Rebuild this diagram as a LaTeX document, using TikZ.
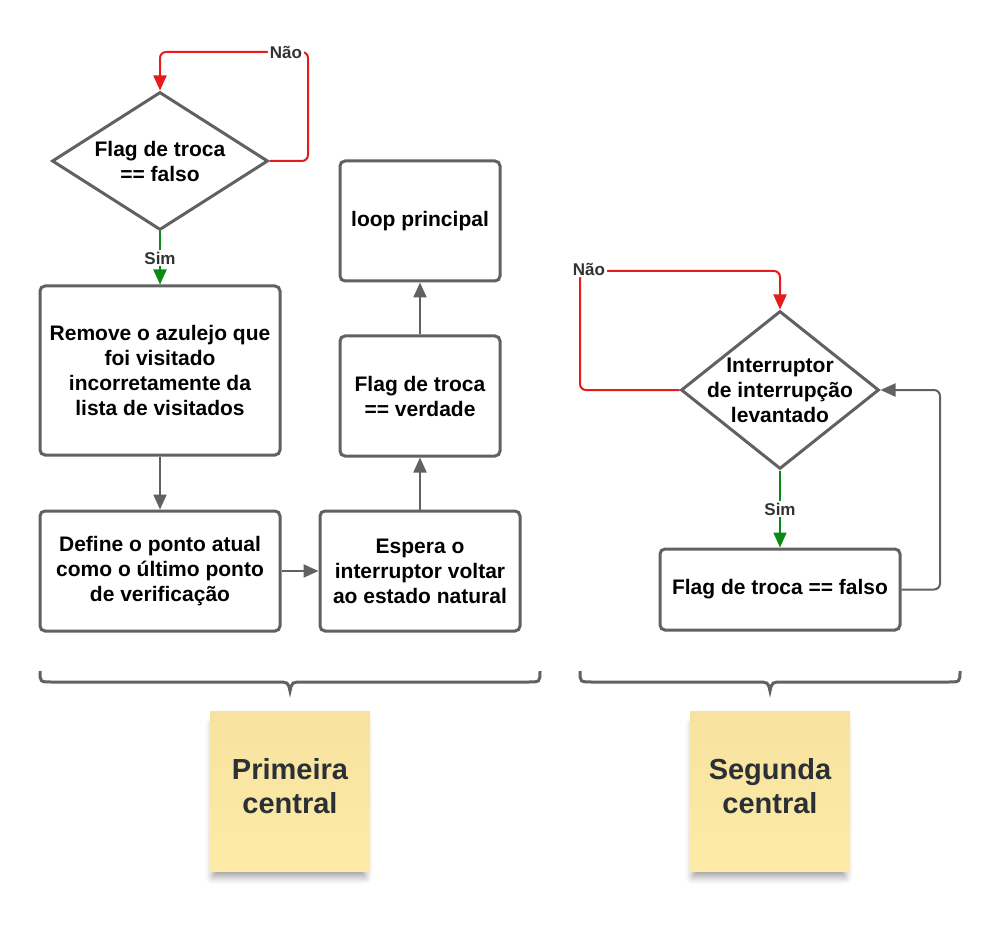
\documentclass[tikz,border=0pt]{standalone}
\usepackage{fontspec}
\setmainfont{Liberation Sans}
\usepackage{tikz}
\usetikzlibrary{shapes.geometric}
\usetikzlibrary{arrows.meta, positioning}
\usetikzlibrary{shadows.blur}
\usepackage{xcolor}
\definecolor{boxgray}{HTML}{616161}
\definecolor{naored}{HTML}{E81B1B}
\definecolor{simgreen}{HTML}{0A8A12}
\definecolor{stickytop}{HTML}{F7E2A0}
\definecolor{stickybot}{HTML}{FEEBA7}
\definecolor{stickytext}{HTML}{2B2F36}
\definecolor{lbltext}{HTML}{333333}

\begin{document}
\begin{tikzpicture}[x=0.5pt, y=-0.5pt,
    every node/.style={font=\fontsize{10.5}{12.5}\selectfont\bfseries, align=center},
    process/.style={draw=boxgray, line width=1.5pt, rounded corners=2.5pt,
        fill=white, inner sep=0pt},
    decision/.style={draw=boxgray, line width=1.5pt, diamond, inner sep=0pt},
    flow/.style={draw=boxgray, line width=1pt,
        -{Triangle[length=7.5pt, width=6.5pt]}},
    nao/.style={flow, draw=naored, rounded corners=3pt},
    sim/.style={flow, draw=simgreen},
    lbl/.style={font=\fontsize{8.5}{10}\selectfont\bfseries, text=lbltext,
        fill=white, inner sep=1pt},
    brace/.style={draw=boxgray, line width=1.5pt},
    sticky/.style={top color=stickytop, bottom color=stickybot,
        minimum width=80pt, minimum height=80pt, inner sep=0pt,
        blur shadow={shadow xshift=-0.5pt, shadow yshift=-5pt,
            shadow opacity=40, shadow scale=0.95, shadow blur radius=4pt}},
    stickytxt/.style={font=\fontsize{14.5}{17}\selectfont\bfseries,
        text=stickytext, yshift=2.5pt}]

    \useasboundingbox (0,0) rectangle (1000,930);

    % primeira central
    \node[decision, minimum width=108pt, minimum height=69pt] (troca) at (160,161) {};
    \node at (troca) {Flag de troca\\== falso};
    \node[process, minimum width=120pt, minimum height=84.5pt] (remove) at (160,370.5)
        {Remove o azulejo que\\foi visitado\\incorretamente da\\lista de visitados};
    \node[process, minimum width=120pt, minimum height=60pt] (define) at (160,571)
        {Define o ponto atual\\como o último ponto\\de verificação};
    \node[process, minimum width=100pt, minimum height=60pt] (espera) at (420,571)
        {Espera o\\interruptor voltar\\ao estado natural};
    \node[process, minimum width=80pt, minimum height=60pt] (verdade) at (420,396)
        {Flag de troca\\== verdade};
    \node[process, minimum width=80pt, minimum height=60pt] (loop) at (420,221)
        {loop principal};

    % segunda central
    \node[decision, minimum width=99pt, minimum height=79pt] (interr) at (780,390) {};
    \node at (interr) {Interruptor\\de interrupção\\levantado};
    \node[process, minimum width=120pt, minimum height=40.5pt] (falso) at (780,589.5)
        {Flag de troca == falso};

    \coordinate (naoA) at (308,52);
    \coordinate (naoB) at (580,271);
    \coordinate (volta) at (940,390);

    \draw[nao] (troca.east) -| (naoA) node[lbl, anchor=east, xshift=-1.5pt] {Não}
        -| (troca.north);
    \draw[sim] (troca.south) -- node[lbl] {Sim} (remove.north);
    \draw[flow] (remove) -- (define);
    \draw[flow] (define) -- (espera);
    \draw[flow] (espera) -- (verdade);
    \draw[flow] (verdade) -- (loop);

    \draw[nao] (interr.west) -| (naoB) node[lbl, xshift=4.5pt, yshift=1pt] {Não}
        -| (interr.north);
    \draw[sim] (interr.south) -- node[lbl] {Sim} (falso.north);
    \draw[flow, rounded corners=3pt] (falso.east) -| (volta) -- (interr.east);

    % chaves
    \draw[brace] (40,671) .. controls (40,682) .. (52,682) -- (277,682)
        .. controls (288,682) .. (290,691) .. controls (292,682) .. (303,682)
        -- (528,682) .. controls (540,682) .. (540,671);
    \draw[brace] (580,671) .. controls (580,682) .. (592,682) -- (757,682)
        .. controls (768,682) .. (770,691) .. controls (772,682) .. (783,682)
        -- (948,682) .. controls (960,682) .. (960,671);

    \node[sticky, label={[stickytxt]center:Primeira\\central}] (primeira) at (290,791) {};
    \node[sticky, label={[stickytxt]center:Segunda\\central}] (segunda) at (770,791) {};

\end{tikzpicture}
\end{document}
